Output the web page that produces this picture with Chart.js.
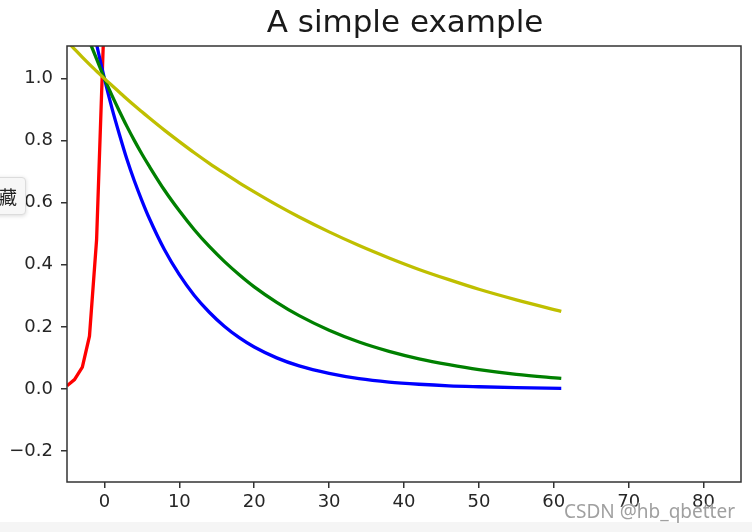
<!DOCTYPE html>
<html>
<head>
<meta charset="utf-8">
<script src="https://cdn.jsdelivr.net/npm/chart.js@4.4.0/dist/chart.umd.min.js"></script>
<style>
  html, body { margin: 0; padding: 0; background: #fff; }
  #wrap { position: relative; width: 752px; height: 532px; overflow: hidden; }
  canvas { display: block; }
  #hide-btn {
    position: absolute; left: -20px; top: 177px; width: 46px; height: 38px;
    box-sizing: border-box; background: #f7f7f7; border: 1px solid #dcdcdc;
    border-radius: 4px; box-shadow: 0 1px 4px rgba(0,0,0,0.15);
    font: 18px "Noto Sans CJK SC"; color: #222; text-align: right;
    padding-right: 12px; line-height: 36px; white-space: nowrap; overflow: hidden;
  }
  #bottom-bar { position: absolute; left: 0; top: 522px; width: 752px; height: 10px; background: #f5f5f5; }
  #watermark {
    position: absolute; left: 564px; top: 498px; font: 19px "Noto Sans";
    color: #a0a0a0; text-shadow: 0 0 2px #fff, 0 0 2px #fff; white-space: nowrap;
  }
</style>
</head>
<body>
<div id="wrap">
  <canvas id="chart" width="752" height="532"></canvas>
  <div id="bottom-bar"></div>
  <div id="hide-btn">隐藏</div>
  <div id="watermark">CSDN @hb_qbetter</div>
</div>
<script>
const titleText = "A simple example";

const xTicks = [0, 10, 20, 30, 40, 50, 60, 70, 80];
const yTicks = [-0.2, 0.0, 0.2, 0.4, 0.6, 0.8, 1.0];
const xMin = -5, xMax = 85;
const yMin = -0.3, yMax = 1.105;

// shared x positions for the three decaying curves
const decayX = [-5, -4, -3, -2, -1, 0, 1, 2, 3, 4, 5, 6, 8, 10, 12, 14, 16, 18, 20, 23, 26, 30, 34, 38, 42, 46, 50, 55, 61];
const blueY = [1.65, 1.49, 1.35, 1.22, 1.105, 1.0, 0.905, 0.82, 0.74, 0.67, 0.607, 0.549, 0.449, 0.368, 0.301, 0.247, 0.202, 0.165, 0.135, 0.1, 0.074, 0.05, 0.033, 0.022, 0.015, 0.01, 0.007, 0.004, 0.002];
const greenY = [1.32, 1.25, 1.18, 1.12, 1.06, 1.0, 0.946, 0.895, 0.846, 0.8, 0.757, 0.717, 0.641, 0.574, 0.513, 0.459, 0.411, 0.368, 0.329, 0.279, 0.236, 0.189, 0.151, 0.121, 0.097, 0.078, 0.062, 0.047, 0.034];
const yellowY = [1.12, 1.095, 1.07, 1.046, 1.023, 1.0, 0.978, 0.956, 0.934, 0.913, 0.893, 0.873, 0.834, 0.797, 0.761, 0.727, 0.695, 0.664, 0.635, 0.593, 0.554, 0.506, 0.462, 0.422, 0.385, 0.352, 0.321, 0.287, 0.25];

// red rises steeply and leaves the plot above 1.1
const redX = [-5, -4, -2.95, -2, -1.05, -0.1];
const redY = [0.01, 0.03, 0.07, 0.17, 0.48, 1.15];

const AXIS_COLOR = "#333333";
const TEXT_COLOR = "#262626";
const FONT = '"DejaVu Sans", sans-serif';

function points(xs, ys) {
  return xs.map((x, i) => ({ x: x, y: ys[i] }));
}

function fmtY(v) {
  if (v < 0) return "\u2212" + Math.abs(v).toFixed(1);
  return v.toFixed(1);
}

// frame round the plot area + title centred over it
const framePlugin = {
  id: "frame",
  afterDatasetsDraw(chart) {
    const { ctx, chartArea: a } = chart;
    ctx.save();
    ctx.strokeStyle = AXIS_COLOR;
    ctx.lineWidth = 1.5;
    ctx.strokeRect(a.left, a.top, a.right - a.left, a.bottom - a.top);
    ctx.restore();
  },
  afterDraw(chart) {
    const { ctx, chartArea: a } = chart;
    ctx.save();
    ctx.fillStyle = "#1a1a1a";
    ctx.font = "31px " + FONT;
    ctx.textAlign = "center";
    ctx.textBaseline = "middle";
    ctx.fillText(titleText, (a.left + a.right) / 2 + 1, 24);
    ctx.restore();
  }
};

function lineSet(data, color, order, smooth) {
  return {
    data: data,
    borderColor: color,
    backgroundColor: color,
    borderWidth: 3.3,
    pointRadius: 0,
    fill: false,
    clip: 0,
    order: order,
    tension: 0,
    cubicInterpolationMode: smooth ? "monotone" : "default"
  };
}

new Chart(document.getElementById("chart"), {
  type: "line",
  data: {
    datasets: [
      lineSet(points(decayX, yellowY), "#bfbf00", 0, true),
      lineSet(points(decayX, greenY), "#008000", 1, true),
      lineSet(points(decayX, blueY), "#0000ff", 2, true),
      lineSet(points(redX, redY), "#ff0000", 3, false)
    ]
  },
  options: {
    responsive: false,
    animation: false,
    events: [],
    layout: { padding: { left: 0, right: 11, top: 0, bottom: 0 } },
    plugins: {
      legend: { display: false },
      tooltip: { enabled: false },
      // empty title only reserves the space above the plot
      title: { display: true, text: "", padding: 0, font: { size: 46, lineHeight: 1 } }
    },
    scales: {
      x: {
        type: "linear",
        min: xMin,
        max: xMax,
        afterBuildTicks: (s) => { s.ticks = xTicks.map((v) => ({ value: v })); },
        afterFit: (s) => { s.height = 50; },
        grid: { drawOnChartArea: false, drawTicks: true, tickLength: 6, color: AXIS_COLOR, lineWidth: 1.5 },
        border: { display: false },
        ticks: { color: TEXT_COLOR, font: { family: FONT, size: 18 }, padding: 4, autoSkip: false, maxRotation: 0,
                 callback: (v) => String(v) }
      },
      y: {
        min: yMin,
        max: yMax,
        afterBuildTicks: (s) => { s.ticks = yTicks.map((v) => ({ value: v })); },
        afterFit: (s) => { s.width = 67; },
        grid: { drawOnChartArea: false, drawTicks: true, tickLength: 6, color: AXIS_COLOR, lineWidth: 1.5 },
        border: { display: false },
        ticks: { color: TEXT_COLOR, font: { family: FONT, size: 18 }, padding: 8, autoSkip: false,
                 callback: (v) => fmtY(v) }
      }
    }
  },
  plugins: [framePlugin]
});
</script>
</body>
</html>
